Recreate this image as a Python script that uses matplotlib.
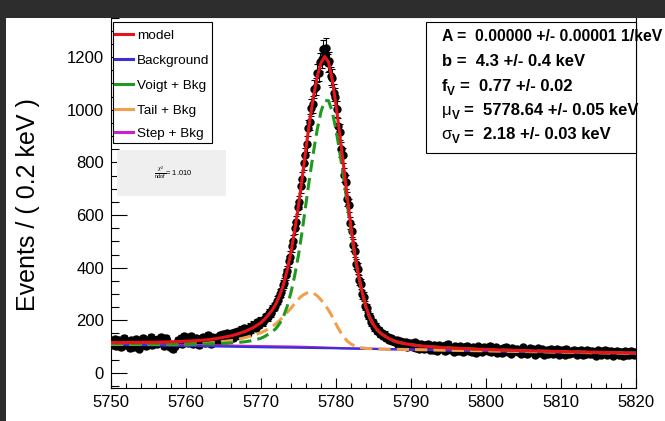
import numpy as np
import matplotlib
matplotlib.use('Agg')
import matplotlib.pyplot as plt
from matplotlib.patches import Rectangle
from matplotlib.lines import Line2D

plt.rcParams['font.family'] = ['Liberation Sans', 'DejaVu Sans']
plt.rcParams['mathtext.fontset'] = 'custom'
plt.rcParams['mathtext.rm'] = 'Liberation Sans'
plt.rcParams['mathtext.it'] = 'Liberation Sans:italic'

W, H = 665, 421

# ---------------- data (events per 0.2 keV bin, 5750 -> 5820 keV) ----------------
bin_start = 5750.0
bin_width = 0.2
data_counts = [
    121, 106, 129, 103, 114, 125, 97, 112, 133, 118,
    109, 102, 95, 124, 108, 99, 130, 115, 92, 107,
    120, 132, 111, 101, 126, 116, 137, 106, 121, 127,
    112, 128, 119, 138, 115, 103, 131, 122, 108, 97,
    94, 91, 101, 110, 124, 114, 133, 109, 139, 117,
    127, 113, 134, 140, 110, 123, 131, 116, 105, 130,
    119, 137, 113, 131, 143, 122, 109, 135, 128, 117,
    137, 121, 143, 127, 149, 135, 124, 152, 137, 146,
    151, 134, 156, 141, 160, 145, 165, 150, 170, 154,
    168, 152, 175, 166, 183, 178, 172, 193, 184, 199,
    197, 193, 208, 214, 211, 228, 226, 244, 251, 255,
    274, 279, 301, 306, 335, 342, 374, 388, 425, 441,
    482, 503, 551, 574, 629, 648, 709, 735, 798, 826,
    870, 931, 952, 1008, 1021, 1079, 1088, 1139, 1141, 1180,
    1192, 1231, 1210, 1236, 1176, 1183, 1129, 1121, 1064, 1049,
    1003, 938, 917, 849, 826, 752, 726, 661, 637, 569,
    541, 486, 463, 414, 396, 352, 338, 299, 289, 256,
    247, 221, 214, 193, 192, 174, 176, 159, 162, 148,
    151, 139, 146, 134, 138, 126, 131, 121, 127, 116,
    125, 108, 122, 104, 119, 102, 117, 99, 114, 103,
    115, 97, 116, 95, 109, 93, 112, 103, 90, 107,
    94, 110, 89, 104, 87, 108, 98, 84, 105, 95,
    91, 103, 83, 106, 111, 97, 87, 95, 81, 101,
    97, 82, 101, 89, 78, 99, 93, 104, 85, 95,
    81, 98, 90, 77, 101, 86, 93, 80, 99, 89,
    96, 84, 103, 79, 92, 83, 98, 76, 90, 87,
    75, 94, 85, 99, 79, 90, 72, 96, 83, 88,
    92, 78, 88, 73, 97, 82, 89, 71, 86, 94,
    79, 90, 70, 86, 94, 75, 84, 91, 69, 83,
    88, 74, 84, 93, 71, 81, 77, 90, 68, 86,
    77, 87, 70, 92, 81, 72, 84, 75, 89, 79,
    69, 85, 78, 88, 67, 80, 74, 87, 82, 71,
    84, 72, 79, 65, 87, 76, 70, 83, 75, 86,
    68, 82, 74, 85, 64, 78, 71, 84, 67, 80,
    78, 66, 82, 70, 79, 67, 84, 73, 69, 80,
]

# ---------------- fitted model components, read at knots ----------------
knot_energy = [
    5750, 5751, 5752, 5753, 5754, 5755, 5756, 5757, 5758, 5759, 5760, 5761, 5762, 5763,
    5764, 5765, 5766, 5767, 5768, 5769, 5770,
    5770.5, 5771, 5771.5, 5772, 5772.5, 5773, 5773.5, 5774, 5774.5, 5775, 5775.5, 5776,
    5776.5, 5777, 5777.5, 5778, 5778.5, 5779, 5779.5, 5780, 5780.5, 5781, 5781.5, 5782,
    5782.5, 5783, 5783.5, 5784, 5784.5, 5785, 5785.5, 5786, 5786.5, 5787,
    5788, 5789, 5790, 5791, 5792, 5793, 5794, 5795, 5796, 5797, 5798, 5799, 5800,
    5802, 5804, 5806, 5808, 5810, 5812, 5814, 5816, 5818, 5820,
]
background = [
    108, 107.5, 107, 106.5, 106, 105.5, 105, 104.5, 104, 103.5, 103, 102.5, 102, 101.5,
    101, 100.5, 100, 99.5, 99, 98.5, 98,
    97.8, 97.6, 97.4, 97.2, 97.0, 96.8, 96.6, 96.4, 96.2, 96.0, 95.8, 95.6,
    95.4, 95.2, 95.0, 94.8, 94.6, 94.4, 94.2, 94.0, 93.75, 93.5, 93.25, 93.0,
    92.75, 92.5, 92.25, 92.0, 91.75, 91.5, 91.25, 91.0, 90.75, 90.5,
    90, 89.5, 89, 88.5, 88, 87.5, 87, 86.5, 86, 85.5, 85, 84.5, 84,
    83, 82, 81, 80, 79, 78, 77, 76.1, 75.3, 74.5,
]
voigt = [
    2.9, 3.0, 3.2, 3.5, 3.8, 4.2, 4.5, 5.0, 5.5, 6.1, 6.7, 7.4, 8.2, 9.2,
    10.3, 12.1, 14.1, 16.7, 20, 25.5, 34,
    41, 50, 59, 72, 91, 118, 157, 210, 275, 352, 445, 548,
    650, 745, 830, 898, 940, 940, 898, 830, 745, 650, 548, 445,
    352, 275, 210, 157, 118, 91, 72, 59, 50, 41,
    29, 23, 18.5, 15.3, 13, 11.2, 9.8, 8.7, 7.8, 7.1, 6.4, 5.9, 5.4,
    4.3, 3.6, 3.1, 2.7, 2.4, 2.1, 1.9, 1.7, 1.5, 1.4,
]
tail = [
    1, 1.2, 1.5, 2, 2.5, 3, 3.6, 4.2, 5, 6, 7, 8.5, 10, 12,
    15, 19, 23, 29, 36, 45, 55,
    62, 70, 79, 90, 103, 118, 134, 150, 168, 185, 198, 207,
    212, 208, 198, 183, 165, 145, 120, 92, 66, 45, 28, 17,
    10, 5, 3, 1.5, 0.7, 0.3, 0, 0, 0, 0,
    0, 0, 0, 0, 0, 0, 0, 0, 0, 0, 0, 0, 0,
    0, 0, 0, 0, 0, 0, 0, 0, 0, 0,
]
step = [
    4, 4, 4, 4, 4, 4, 4, 4, 4, 4, 4, 4, 4, 4,
    4, 4, 4, 4, 4, 4, 4,
    4, 4, 4, 4, 4, 4, 3.95, 3.9, 3.8, 3.7, 3.55, 3.4,
    3.15, 2.9, 2.6, 2.3, 2.0, 1.7, 1.4, 1.1, 0.8, 0.6, 0.45, 0.3,
    0.2, 0.1, 0.05, 0, 0, 0, 0, 0, 0, 0,
    0, 0, 0, 0, 0, 0, 0, 0, 0, 0, 0, 0, 0,
    0, 0, 0, 0, 0, 0, 0, 0, 0, 0,
]

legend_labels = ["model", "Background", "Voigt + Bkg", "Tail + Bkg", "Step + Bkg"]
legend_colors = ["#e8141c", "#3b2fd8", "#1f9a1f", "#f0a04c", "#cc1fcc"]

x_ticks = [5750, 5760, 5770, 5780, 5790, 5800, 5810, 5820]
y_ticks = [0, 200, 400, 600, 800, 1000, 1200]
y_label = "Events / ( 0.2 keV )"
chi2_text = r"$\frac{\chi^{2}}{\mathrm{ndof}}$= 1.010"

# ---------------- build ----------------
counts = np.array(data_counts, dtype=float)
centers = bin_start + bin_width * (np.arange(len(counts)) + 0.5)
kx = np.array(knot_energy, dtype=float)
bkg = np.array(background)
vg = np.array(voigt)
tl = np.array(tail)
st = np.array(step)
model = bkg + vg + tl + st


def fx(px):
    return px / W


def fy(py):
    return 1 - py / H


fig = plt.figure(figsize=(W / 100, H / 100), dpi=100)
fig.patch.set_facecolor('white')

ax_l, ax_r, ax_t, ax_b = 111, 636, 17, 388
ax = fig.add_axes([fx(ax_l), fy(ax_b), (ax_r - ax_l) / W, (ax_b - ax_t) / H])
ax.set_xlim(5750, 5820)
ax.set_ylim(-57, 1352)

ax.errorbar(centers, counts, yerr=np.sqrt(counts), xerr=bin_width / 2, fmt='o',
            color='black', ms=5, elinewidth=0.8, capsize=2, capthick=0.8, zorder=2)

ax.plot(kx, bkg + st, color=legend_colors[4], lw=1.6, zorder=3)
ax.plot(kx, bkg, color=legend_colors[1], lw=1.6, zorder=4)
ax.plot(kx, bkg + tl, color=legend_colors[3], lw=2.2, ls=(0, (4, 2)), zorder=5)
ax.plot(kx, bkg + vg, color=legend_colors[2], lw=2.2, ls=(0, (4, 2)), zorder=5)
ax.plot(kx, model, color=legend_colors[0], lw=2.2, zorder=6)

ax.set_xticks(x_ticks)
ax.set_xticks(np.arange(5750, 5821, 2), minor=True)
ax.set_yticks(y_ticks)
ax.set_yticks(np.arange(-50, 1351, 50), minor=True)
ax.tick_params(which='both', direction='in', top=False, right=False, width=0.8)
ax.tick_params(axis='y', which='major', length=11.5, labelsize=12, pad=5)
ax.tick_params(axis='y', which='minor', length=6)
ax.tick_params(axis='x', which='major', length=7.2, labelsize=12, pad=5)
ax.tick_params(axis='x', which='minor', length=3.6)
for s in ax.spines.values():
    s.set_linewidth(0.8)

fig.text(fx(28), fy(205), y_label, rotation=90, ha='center', va='center', fontsize=18)

# legend box
fig.add_artist(Rectangle((fx(113), fy(143)), (212 - 113) / W, (143 - 22) / H,
                         transform=fig.transFigure, facecolor='white', edgecolor='black',
                         lw=0.8, zorder=10))
leg_y = [34, 59, 84, 109, 132]
for lab, col, yy in zip(legend_labels, legend_colors, leg_y):
    fig.add_artist(Line2D([fx(115), fx(133)], [fy(yy), fy(yy)], color=col, lw=2.2,
                          transform=fig.transFigure, zorder=11))
    fig.text(fx(137), fy(yy + 4.7), lab, fontsize=9.7, ha='left', va='baseline', zorder=11)

# chi2 box
fig.add_artist(Rectangle((fx(117), fy(196)), (226 - 117) / W, (196 - 150) / H,
                         transform=fig.transFigure, facecolor='#efefef', edgecolor='none',
                         zorder=10))
fig.text(fx(154), fy(173), chi2_text, fontsize=5.5, ha='left', va='center', zorder=11)

# stats box
fig.add_artist(Rectangle((fx(426), fy(153)), (636 - 426) / W, (153 - 22) / H,
                         transform=fig.transFigure, facecolor='white', edgecolor='black',
                         lw=0.8, zorder=10))
fs = 12.0
rows = [35, 60, 85, 109, 133]
fig.text(fx(441.5), fy(rows[0] + 6), "A =  0.00000 +/- 0.00001 1/keV", fontsize=11.35,
         fontweight='bold', ha='left', va='baseline', zorder=11)
fig.text(fx(441.5), fy(rows[1] + 6), "b =  4.3 +/- 0.4 keV", fontsize=fs,
         fontweight='bold', ha='left', va='baseline', zorder=11)
sym_rows = [("f", "bold", 447, 460, "=  0.77 +/- 0.02", rows[2]),
            ("\u03bc", "normal", 451.5, 464, "=  5778.64 +/- 0.05 keV", rows[3]),
            ("\u03c3", "normal", 451.5, 464, "=  2.18 +/- 0.03 keV", rows[4])]
for sym, wgt, xsub, xeq, rest, yy in sym_rows:
    fig.text(fx(441.5), fy(yy + 6), sym, fontsize=fs, fontweight=wgt, ha='left',
             va='baseline', zorder=11)
    fig.text(fx(xsub), fy(yy + 10), "V", fontsize=8.5, fontweight='bold', ha='left',
             va='baseline', zorder=11)
    fig.text(fx(xeq), fy(yy + 6), rest, fontsize=fs, fontweight='bold', ha='left',
             va='baseline', zorder=11)

# dark border around the canvas
dark = '#2d2d2d'
fig.add_artist(Rectangle((0, fy(18)), 1, 18 / H, transform=fig.transFigure,
                         facecolor=dark, edgecolor='none', zorder=50))
fig.add_artist(Rectangle((0, 0), 6 / W, 1, transform=fig.transFigure,
                         facecolor=dark, edgecolor='none', zorder=50))

fig.savefig('out.png', dpi=100, facecolor=fig.get_facecolor())
